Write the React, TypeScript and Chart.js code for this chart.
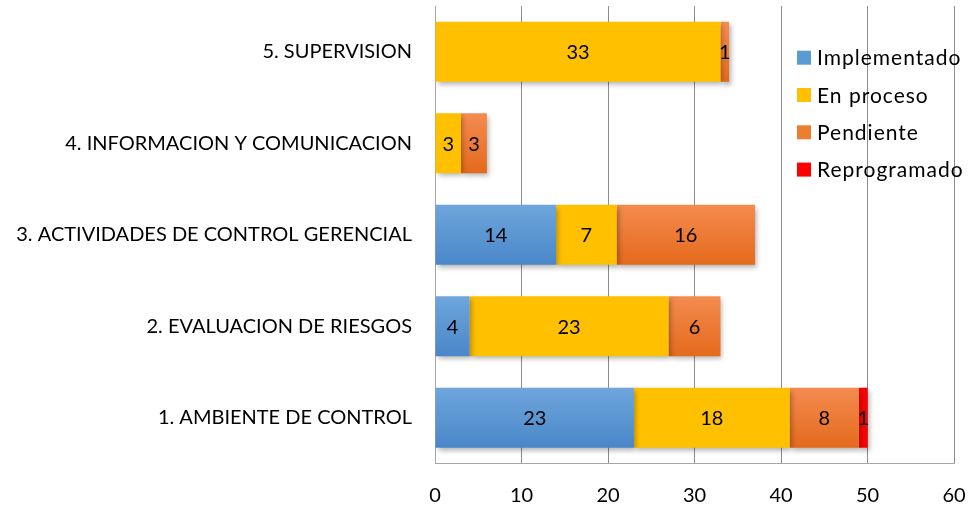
import React, { useEffect, useRef } from "react";
import { Chart, registerables } from "chart.js";
Chart.register(...registerables);

const categories = [
  "5. SUPERVISION",
  "4. INFORMACION Y COMUNICACION",
  "3. ACTIVIDADES DE CONTROL GERENCIAL",
  "2. EVALUACION DE RIESGOS",
  "1. AMBIENTE DE CONTROL",
];
const implementado = [0, 0, 14, 4, 23];
const enProceso = [33, 3, 7, 23, 18];
const pendiente = [1, 3, 16, 6, 8];
const reprogramado = [0, 0, 0, 0, 1];
const seriesNames = ["Implementado", "En proceso", "Pendiente", "Reprogramado"];
const xTicks = [0, 10, 20, 30, 40, 50, 60];

const FONT = "Lato, 'Noto Sans', sans-serif";
const BAR_PCT = 0.656;

type Grad = [string, string] | string;
const fills: Grad[] = [
  ["#6ea6dc", "#4a87c9"],
  "#ffc000",
  ["#f48b50", "#e46a1c"],
  "#ff0000",
];
const legendColors = ["#5b9bd5", "#ffc000", "#ed7d31", "#ff0000"];

function makeBg(fill: Grad) {
  return (ctx: any) => {
    if (typeof fill === "string") return fill;
    const chart = ctx.chart;
    const y = chart.scales?.y;
    if (!y || ctx.dataIndex === undefined) return fill[0];
    const c = y.getPixelForValue(ctx.dataIndex);
    const step = (y.bottom - y.top) / categories.length;
    const h = step * BAR_PCT;
    if (!isFinite(c) || !isFinite(h) || h <= 0) return fill[0];
    const g = chart.ctx.createLinearGradient(0, c - h / 2, 0, c + h / 2);
    g.addColorStop(0, fill[0]);
    g.addColorStop(1, fill[1]);
    return g;
  };
}

const shadowPlugin = {
  id: "barShadow",
  beforeDatasetsDraw(chart: any) {
    const ctx = chart.ctx;
    ctx.save();
    ctx.shadowColor = "rgba(0,0,0,0.3)";
    ctx.shadowBlur = 5;
    ctx.shadowOffsetX = 2;
    ctx.shadowOffsetY = 3;
  },
  afterDatasetsDraw(chart: any) {
    chart.ctx.restore();
  },
};

const labelPlugin = {
  id: "valueLabels",
  afterDatasetsDraw(chart: any) {
    const ctx = chart.ctx;
    ctx.save();
    ctx.font = `20px ${FONT}`;
    ctx.fillStyle = "#000";
    ctx.textAlign = "center";
    ctx.textBaseline = "middle";
    chart.data.datasets.forEach((ds: any, di: number) => {
      const meta = chart.getDatasetMeta(di);
      meta.data.forEach((bar: any, i: number) => {
        const v = ds.data[i];
        if (!v) return;
        const x0 = bar.base;
        const x1 = bar.x;
        ctx.fillText(String(v), (x0 + x1) / 2, bar.y + 1);
      });
    });
    ctx.restore();
  },
};

const legendPlugin = {
  id: "customLegend",
  afterDraw(chart: any) {
    const ctx = chart.ctx;
    ctx.save();
    ctx.font = `21px ${FONT}`;
    try {
      (ctx as any).letterSpacing = "1px";
    } catch (e) {}
    ctx.textBaseline = "middle";
    ctx.textAlign = "left";
    const x = 797;
    const y0 = 57.7;
    const dy = 37.3;
    seriesNames.forEach((n, i) => {
      const y = y0 + i * dy;
      ctx.fillStyle = legendColors[i];
      ctx.fillRect(x, y - 7, 14, 14);
      ctx.fillStyle = "#000";
      ctx.fillText(n, x + 20, y + 1);
    });
    ctx.restore();
  },
};

export default function App() {
  const ref = useRef<HTMLCanvasElement>(null);
  useEffect(() => {
    document.body.style.margin = "0";
    const seriesData = [implementado, enProceso, pendiente, reprogramado];
    const chart = new Chart(ref.current!, {
      type: "bar",
      data: {
        labels: categories,
        datasets: seriesNames.map((n, i) => ({
          label: n,
          data: seriesData[i],
          backgroundColor: makeBg(fills[i]) as any,
          borderWidth: 0,
          categoryPercentage: 1,
          barPercentage: BAR_PCT,
        })),
      },
      options: {
        indexAxis: "y",
        animation: false,
        responsive: false,
        maintainAspectRatio: false,
        layout: { padding: { top: 6, right: 14, left: 0, bottom: 0 } },
        plugins: { legend: { display: false }, tooltip: { enabled: false } },
        scales: {
          x: {
            stacked: true,
            min: 0,
            max: 60,
            afterBuildTicks: (s: any) => {
              s.ticks = xTicks.map((v) => ({ value: v }));
            },
            afterFit: (s: any) => {
              s.height = 45.5;
              s.paddingLeft = 0;
              s.paddingRight = 0;
            },
            grid: { color: "#8c8c8c", lineWidth: 1, drawTicks: false },
            border: { color: "#a6a6a6" },
            ticks: { font: { family: FONT, size: 20 }, color: "#000", padding: 20 },
          },
          y: {
            stacked: true,
            afterFit: (s: any) => {
              s.width = 435;
              s.paddingTop = 0;
              s.paddingBottom = 0;
            },
            grid: { display: false, drawTicks: false },
            border: { color: "#a6a6a6" },
            ticks: { font: { family: FONT, size: 20 }, color: "#000", padding: 23 },
          },
        },
      },
      plugins: [shadowPlugin, labelPlugin, legendPlugin],
    });
    return () => chart.destroy();
  }, []);
  return (
    <div style={{ width: 968, height: 509 }}>
      <canvas ref={ref} width={968} height={509} style={{ display: "block" }} />
    </div>
  );
}
